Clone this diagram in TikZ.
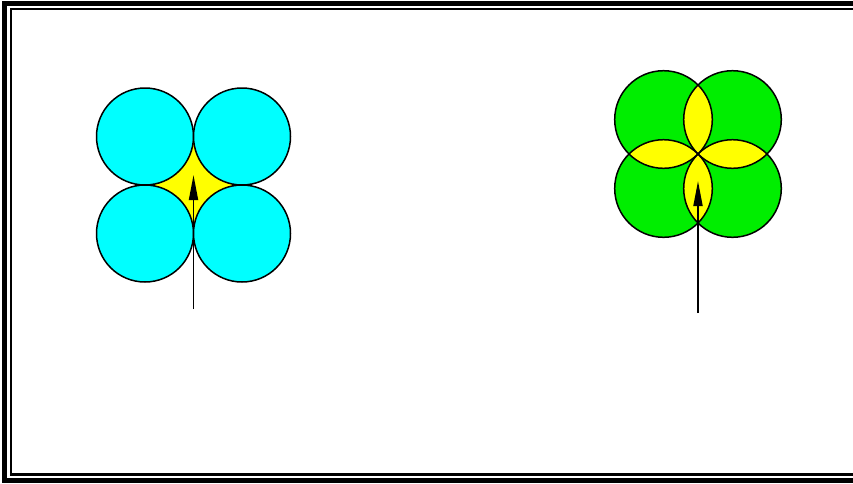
\documentclass[tikz,border=0pt]{standalone}
\usetikzlibrary{arrows.meta,calc}
\definecolor{cyanfill}{RGB}{0,255,255}
\definecolor{yellowfill}{RGB}{255,255,0}
\definecolor{greenfill}{RGB}{0,238,0}
\tikzset{
  ring/.style={draw=black, line width=1.5pt},
  pointer/.style={draw=black, line width=1.8pt, -{Triangle[length=25pt,width=9pt]}},
}
\begin{document}
\begin{tikzpicture}[x=1pt,y=-1pt]
\useasboundingbox (0,0) rectangle (853,483);
\clip (0,0) rectangle (853,483);
\fill[white] (0,0) rectangle (853,483);
% frame
\draw[line width=5.5pt] (4.5,3.5) rectangle (880,480.5);
\draw[line width=2.5pt] (11,9) rectangle (870,474.5);
% left: four touching cyan circles
\def\lr{48.5}
\fill[yellowfill] (145,136.5) rectangle (242,233.5);
\foreach \cx/\cy in {145/136.5, 242/136.5, 145/233.5, 242/233.5}
  \filldraw[ring, fill=cyanfill] (\cx,\cy) circle[radius=\lr];
\coordinate (la) at (193.5,309);
\coordinate (lb) at (193.5,175);
\draw[pointer] (la) -- (lb);
% right: four overlapping green circles
\def\gr{48.8}
\coordinate (P) at (698,154);
\foreach \dx/\dy in {-34.5/-34.5, 34.5/-34.5, -34.5/34.5, 34.5/34.5}
  \fill[greenfill] ($(P)+(\dx,\dy)$) circle[radius=\gr];
\foreach \ax/\ay/\bx/\by in {-34.5/-34.5/34.5/-34.5, -34.5/-34.5/-34.5/34.5, 34.5/-34.5/34.5/34.5, -34.5/34.5/34.5/34.5}{
  \begin{scope}
    \clip ($(P)+(\ax,\ay)$) circle[radius=\gr];
    \fill[yellowfill] ($(P)+(\bx,\by)$) circle[radius=\gr];
  \end{scope}
}
\foreach \dx/\dy in {-34.5/-34.5, 34.5/-34.5, -34.5/34.5, 34.5/34.5}
  \draw[ring] ($(P)+(\dx,\dy)$) circle[radius=\gr];
\coordinate (ra) at (698,313);
\coordinate (rb) at (698,181);
\draw[pointer] (ra) -- (rb);
\end{tikzpicture}
\end{document}
